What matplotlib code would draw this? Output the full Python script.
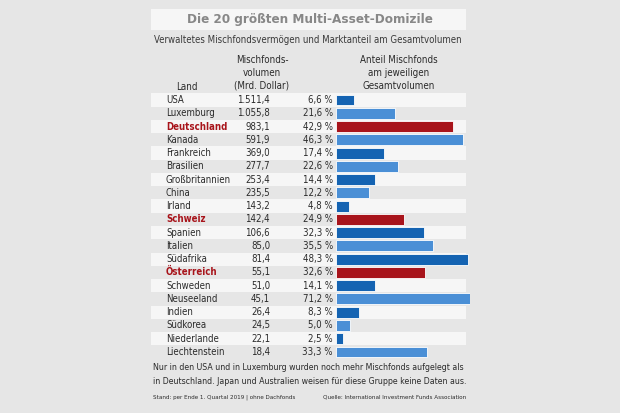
import matplotlib
matplotlib.use("Agg")
import matplotlib.pyplot as plt
from matplotlib.patches import Rectangle

plt.rcParams['font.family'] = ['DejaVu Sans']
plt.rcParams['font.stretch'] = 'condensed'

# data
countries = ["USA", "Luxemburg", "Deutschland", "Kanada", "Frankreich", "Brasilien",
             "Großbritannien", "China", "Irland", "Schweiz", "Spanien", "Italien",
             "Südafrika", "Österreich", "Schweden", "Neuseeland", "Indien", "Südkorea",
             "Niederlande", "Liechtenstein"]
volume_labels = ["1.511,4", "1.055,8", "983,1", "591,9", "369,0", "277,7", "253,4", "235,5",
                 "143,2", "142,4", "106,6", "85,0", "81,4", "55,1", "51,0", "45,1", "26,4",
                 "24,5", "22,1", "18,4"]
share = [6.6, 21.6, 42.9, 46.3, 17.4, 22.6, 14.4, 12.2, 4.8, 24.9, 32.3, 35.5, 48.3,
         32.6, 14.1, 71.2, 8.3, 5.0, 2.5, 33.3]
highlight = ["Deutschland", "Schweiz", "Österreich"]

W, H = 620, 413
BG = "#e6e6e6"
DARK = "#1463b2"
LIGHT = "#4a8fd6"
RED = "#a8141b"
TXT = "#2b2b2b"

fig = plt.figure(figsize=(W / 100, H / 100), dpi=100)
fig.patch.set_facecolor(BG)


def px_axes(x0, y0, x1, y1):
    return fig.add_axes([x0 / W, 1 - y1 / H, (x1 - x0) / W, (y1 - y0) / H])


def fx(x):
    return x / W


def fy(y):
    return 1 - y / H


# title band
fig.patches.append(Rectangle((fx(151), fy(30)), (466 - 151) / W, 21 / H,
                             transform=fig.transFigure, facecolor="#f6f6f6", edgecolor="none"))
fig.text(fx(310), fy(19.5), "Die 20 größten Multi-Asset-Domizile", ha="center", va="center",
         fontsize=9.6, fontweight="bold", color="#878787")
fig.text(fx(308), fy(40), "Verwaltetes Mischfondsvermögen und Marktanteil am Gesamtvolumen",
         ha="center", va="center", fontsize=6.9, color="#3a3a3a")

# column headers
fig.text(fx(187), fy(87), "Land", ha="center", va="center", fontsize=7, color=TXT)
fig.text(fx(262), fy(73), "Mischfonds-\nvolumen\n(Mrd. Dollar)", ha="center", va="center",
         fontsize=7, color=TXT, linespacing=1.33)
fig.text(fx(399), fy(73), "Anteil Mischfonds\nam jeweiligen\nGesamtvolumen", ha="center",
         va="center", fontsize=7, color=TXT, linespacing=1.33)

n = len(countries)
top, bottom = 93.4, 358.6

# table axes: stripes and labels
ax_tab = px_axes(151, top, 470, bottom)
ax_tab.set_xlim(151, 470)
ax_tab.set_ylim(n - 0.5, -0.5)
ax_tab.axis("off")
for i, name in enumerate(countries):
    if i % 2 == 0:
        ax_tab.fill_between([151, 466], i - 0.5, i + 0.5, color="#f6f6f6", lw=0)
    hl = name in highlight
    ax_tab.text(166, i, name, ha="left", va="center", fontsize=6.9,
                color=RED if hl else TXT, fontweight="bold" if hl else "normal")
    ax_tab.text(270, i, volume_labels[i], ha="right", va="center", fontsize=6.9, color=TXT)
    ax_tab.text(333, i, f"{share[i]:.1f} %".replace(".", ","), ha="right", va="center",
                fontsize=6.9, color=TXT)

# bar axes
ax_bar = px_axes(336, top, 470, bottom)
ax_bar.set_xlim(0, 49)
ax_bar.set_ylim(n - 0.5, -0.5)
ax_bar.axis("off")
colors = []
for i, name in enumerate(countries):
    if name in highlight:
        colors.append(RED)
    elif i % 2 == 0:
        colors.append(DARK)
    else:
        colors.append(LIGHT)
ax_bar.barh(range(n), share, height=0.82, color=colors, edgecolor="white", linewidth=0.6)

# footnotes
fig.text(fx(153), fy(368), "Nur in den USA und in Luxemburg wurden noch mehr Mischfonds aufgelegt als",
         ha="left", va="center", fontsize=6.3, color=TXT)
fig.text(fx(153), fy(381), "in Deutschland. Japan und Australien weisen für diese Gruppe keine Daten aus.",
         ha="left", va="center", fontsize=6.3, color=TXT)
fig.text(fx(153), fy(397), "Stand: per Ende 1. Quartal 2019 | ohne Dachfonds", ha="left",
         va="center", fontsize=4.5, color=TXT)
fig.text(fx(466), fy(397), "Quelle: International Investment Funds Association", ha="right",
         va="center", fontsize=4.5, color=TXT)

fig.savefig("out.png", dpi=100, facecolor=BG)
